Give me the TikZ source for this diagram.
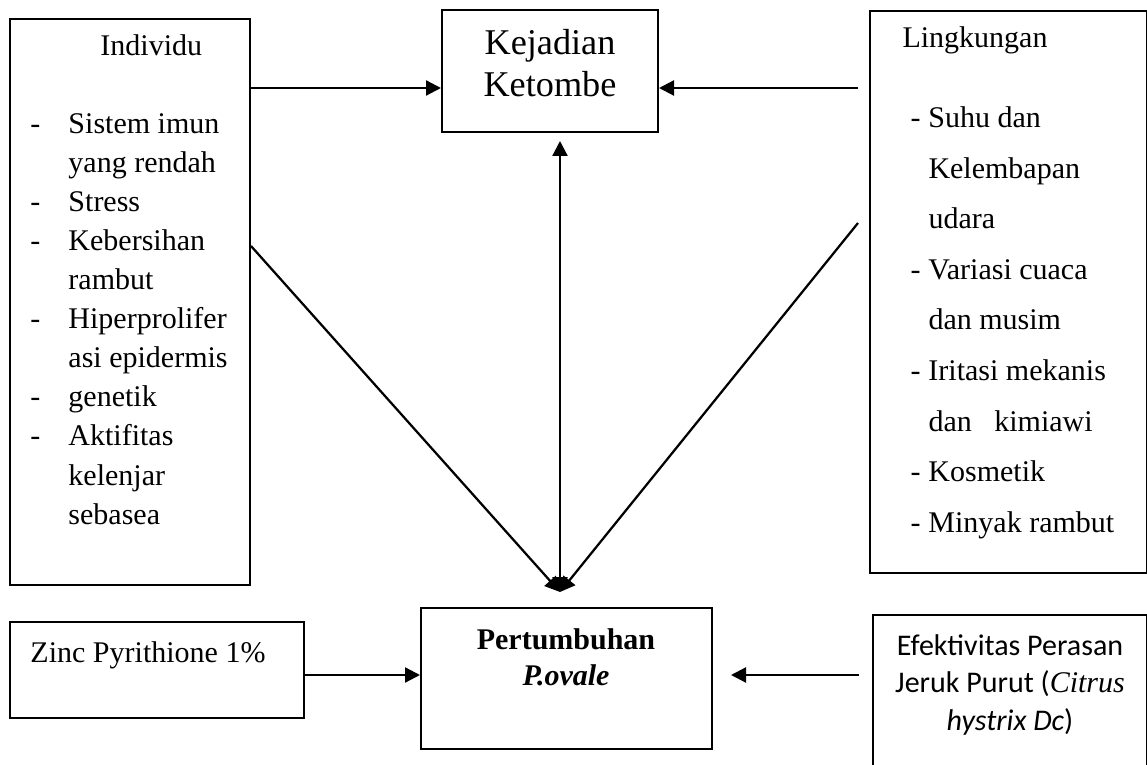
\documentclass[tikz,border=0pt]{standalone}
\usepackage{fontspec}
\setmainfont{Liberation Serif}
\newfontfamily\calib{Carlito}
\usetikzlibrary{arrows.meta,fit}

\begin{document}
\begin{tikzpicture}[x=0.4pt,y=-0.4pt,
	box/.style={draw, line width=0.8pt, inner sep=0pt},
	txt/.style={inner sep=0pt},
	arr/.style={-{Triangle[length=6pt,width=6pt]}, line width=0.9pt},
	arrboth/.style={{Triangle[length=6pt,width=6pt]}-{Triangle[length=6pt,width=6pt]}, line width=0.9pt}]
	\useasboundingbox (0,0) rectangle (1147,765);
	\clip (0,0) rectangle (1147,765);
	% boxes
	\node [box, fit={(10,19) (250,585)}] (indiv) {};
	\node [box, fit={(442,10) (658,132)}] (kej) {};
	\node [box, fit={(870,11) (1147,573)}] (ling) {};
	\node [box, fit={(10,622) (304,718)}] (zinc) {};
	\node [box, fit={(421,608) (712,749)}] (pert) {};
	\node [box, fit={(873,615) (1147,800)}] (efek) {};
	% texts
	\node [txt, anchor=base west, font=\fontsize{12}{15.6}\selectfont] (indiv-t) at (30,56)
		{\begin{tabular}[t]{@{}p{15.2pt}@{}l@{}}
		\multicolumn{2}{@{\hspace{28pt}}l@{}}{Individu}\\
		&\\
		-&Sistem imun\\
		&yang rendah\\
		-&Stress\\
		-&Kebersihan\\
		&rambut\\
		-&Hiperprolifer\\
		&asi epidermis\\
		-&genetik\\
		-&Aktifitas\\
		&kelenjar\\
		&sebasea
		\end{tabular}};
	\node [txt, anchor=base, font=\fontsize{14.5}{16.8}\selectfont] (kej-t) at (550,55)
		{\begin{tabular}[t]{@{}c@{}}Kejadian\\ Ketombe\end{tabular}};
	\node [txt, anchor=base west, font=\fontsize{12}{15}\selectfont] (ling-t) at (902,48) {Lingkungan};
	\node [txt, anchor=base west, font=\fontsize{12}{20.2}\selectfont] (ling-l) at (910,128)
		{\begin{tabular}[t]{@{}p{7.2pt}@{}l@{}}
		-&Suhu dan\\
		&Kelembapan\\
		&udara\\
		-&Variasi cuaca\\
		&dan musim\\
		-&Iritasi mekanis\\
		&dan\ \ \ kimiawi\\
		-&Kosmetik\\
		-&Minyak rambut
		\end{tabular}};
	\node [txt, anchor=base west, font=\fontsize{12}{15}\selectfont] (zinc-t) at (30,662) {Zinc Pyrithione 1\%};
	\node [txt, anchor=base, font=\fontsize{12}{14.4}\selectfont\bfseries] (pert-t) at (566,649)
		{\begin{tabular}[t]{@{}c@{}}Pertumbuhan\\ \textit{P.ovale}\end{tabular}};
	\node [txt, anchor=base, font=\calib\fontsize{12}{15}\selectfont] (efek-t) at (1010,655)
		{\begin{tabular}[t]{@{}c@{}}Efektivitas Perasan\\ Jeruk Purut ({\rmfamily\itshape Citrus}\\ \textit{hystrix Dc})\end{tabular}};
	% arrows
	\coordinate (top-row) at (0,88);
	\coordinate (low-row) at (0,675);
	\coordinate (meet) at (560,592);
	\draw [arr] (indiv.east |- top-row) -- (kej.west |- top-row);
	\draw [arr] ([xshift=-4.4pt]ling.west |- top-row) -- (kej.east |- top-row);
	\draw [arrboth] (meet) -- ([yshift=-3.2pt]kej.south -| meet);
	\draw [arr] (indiv.north east) ++(0,228) -- (meet);
	\draw [arr] ([xshift=-4.4pt]ling.north west) ++(0,213) -- (meet);
	\draw [arr] (zinc.east |- low-row) -- (pert.west |- low-row);
	\draw [arr] ([xshift=-5.2pt]efek.west |- low-row) -- ([xshift=7.2pt]pert.east |- low-row);
\end{tikzpicture}
\end{document}
